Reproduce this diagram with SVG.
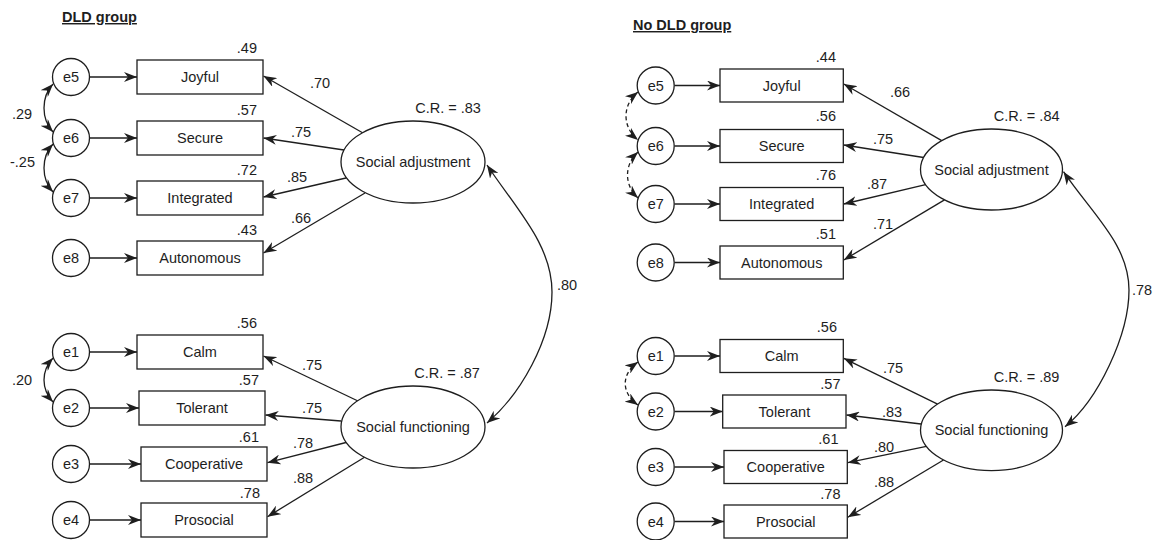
<svg xmlns="http://www.w3.org/2000/svg" width="1153" height="540" viewBox="0 0 1153 540">
  <style>
    text { font-family: "Liberation Sans", Arial, sans-serif; font-size: 14.5px; fill: #1e1e1e; }
    .title { font-weight: bold; text-decoration: underline; }
    .c { text-anchor: middle; }
    .r { text-anchor: end; }
    .shape { fill: #fff; stroke: #1e1e1e; stroke-width: 1.3; }
    .edge { fill: none; stroke: #1e1e1e; stroke-width: 1.3; marker-end: url(#head); }
    .cov { fill: none; stroke: #1e1e1e; stroke-width: 1.3; marker-start: url(#head); marker-end: url(#head); }
    .dash { stroke-dasharray: 4 3; }
  </style>
  <defs>
    <marker id="head" viewBox="0 0 13 10" refX="13" refY="5" markerWidth="13" markerHeight="10" markerUnits="userSpaceOnUse" orient="auto-start-reverse">
      <path d="M0,0 L13,5 L0,10 L4,5 z" fill="#1e1e1e"/>
    </marker>
  </defs>
  <rect width="1153" height="540" fill="#fff"/>

  <!-- ===== DLD group ===== -->
  <text class="title" x="62" y="22">DLD group</text>

  <g id="L-connectors">
    <!-- error terms to indicators -->
    <path class="edge" d="M90,77 L137,77"/>
    <path class="edge" d="M90,138 L137,138"/>
    <path class="edge" d="M90,198 L137,198"/>
    <path class="edge" d="M90,258 L137,258"/>
    <path class="edge" d="M90,352 L137,352"/>
    <path class="edge" d="M90,408 L139,408"/>
    <path class="edge" d="M90,464 L141,464"/>
    <path class="edge" d="M90,520 L141,520"/>
    <!-- loadings -->
    <path class="edge" d="M363,133 L263.5,76"/>
    <path class="edge" d="M344,150 L263.5,138"/>
    <path class="edge" d="M346,178 L263.5,197"/>
    <path class="edge" d="M365,193 L263.5,253"/>
    <path class="edge" d="M358,401 L263.5,356"/>
    <path class="edge" d="M341,421 L265.5,415"/>
    <path class="edge" d="M346,442.5 L267.5,462.7"/>
    <path class="edge" d="M364.5,457.3 L267.5,516.7"/>
    <!-- covariances -->
    <path class="cov" d="M53,84 C41,97 41,119 53,132"/>
    <path class="cov" d="M53,144 C41,157 41,179 53,192"/>
    <path class="cov" d="M53,358 C41,371 41,389 53,402"/>
    <path class="cov" d="M487,165 C517,210 552,245 552,292 C552,340 520,395 487,423"/>
    <text x="12" y="119">.29</text>
    <text x="10" y="167">-.25</text>
    <text x="12" y="385">.20</text>
    <text x="557" y="290">.80</text>
    <text x="310" y="88">.70</text>
    <text x="291" y="137">.75</text>
    <text x="287" y="182">.85</text>
    <text x="291" y="223">.66</text>
    <text x="302" y="370">.75</text>
    <text x="302" y="413">.75</text>
    <text x="293" y="448">.78</text>
    <text x="293" y="483">.88</text>
  </g>

  <g id="L-e5"><circle class="shape" cx="71" cy="77" r="18.5"/><text class="c" x="71" y="82">e5</text></g>
  <g id="L-e6"><circle class="shape" cx="71" cy="138" r="18.5"/><text class="c" x="71" y="143">e6</text></g>
  <g id="L-e7"><circle class="shape" cx="71" cy="198" r="18.5"/><text class="c" x="71" y="203">e7</text></g>
  <g id="L-e8"><circle class="shape" cx="71" cy="258" r="18.5"/><text class="c" x="71" y="263">e8</text></g>
  <g id="L-e1"><circle class="shape" cx="71" cy="352" r="18.5"/><text class="c" x="71" y="357">e1</text></g>
  <g id="L-e2"><circle class="shape" cx="71" cy="408" r="18.5"/><text class="c" x="71" y="413">e2</text></g>
  <g id="L-e3"><circle class="shape" cx="71" cy="464" r="18.5"/><text class="c" x="71" y="469">e3</text></g>
  <g id="L-e4"><circle class="shape" cx="71" cy="520" r="18.5"/><text class="c" x="71" y="525">e4</text></g>

  <g id="L-joyful"><rect class="shape" x="137" y="60" width="126" height="34"/><text class="c" x="200" y="82">Joyful</text><text class="r" x="257" y="53">.49</text></g>
  <g id="L-secure"><rect class="shape" x="137" y="121" width="126" height="34"/><text class="c" x="200" y="143">Secure</text><text class="r" x="257" y="115">.57</text></g>
  <g id="L-integrated"><rect class="shape" x="137" y="181" width="126" height="34"/><text class="c" x="200" y="203">Integrated</text><text class="r" x="257" y="175">.72</text></g>
  <g id="L-autonomous"><rect class="shape" x="137" y="241" width="126" height="34"/><text class="c" x="200" y="263">Autonomous</text><text class="r" x="257" y="235">.43</text></g>
  <g id="L-calm"><rect class="shape" x="137" y="335" width="126" height="34"/><text class="c" x="200" y="357">Calm</text><text class="r" x="257" y="328">.56</text></g>
  <g id="L-tolerant"><rect class="shape" x="139" y="391" width="126" height="34"/><text class="c" x="202" y="413">Tolerant</text><text class="r" x="259" y="385">.57</text></g>
  <g id="L-cooperative"><rect class="shape" x="141" y="447" width="126" height="34"/><text class="c" x="204" y="469">Cooperative</text><text class="r" x="259" y="442">.61</text></g>
  <g id="L-prosocial"><rect class="shape" x="141" y="503" width="126" height="34"/><text class="c" x="204" y="525">Prosocial</text><text class="r" x="260" y="497.5">.78</text></g>

  <g id="L-social-adjustment"><ellipse class="shape" cx="413" cy="162" rx="72" ry="41"/><text class="c" x="413" y="167">Social adjustment</text><text class="c" x="448" y="113">C.R. = .83</text></g>
  <g id="L-social-functioning"><ellipse class="shape" cx="413" cy="427" rx="72" ry="41"/><text class="c" x="413" y="432">Social functioning</text><text class="c" x="447" y="378">C.R. = .87</text></g>

  <!-- ===== No DLD group ===== -->
  <text class="title" x="633" y="30">No DLD group</text>

  <g id="R-connectors">
    <path class="edge" d="M674.5,85.5 L720,85.5"/>
    <path class="edge" d="M674.5,146 L720,146"/>
    <path class="edge" d="M674.5,204 L720,204"/>
    <path class="edge" d="M674.5,262.5 L720,262.5"/>
    <path class="edge" d="M674.5,356 L720,356"/>
    <path class="edge" d="M674.5,411.5 L722.7,411.5"/>
    <path class="edge" d="M674.5,467 L724,467"/>
    <path class="edge" d="M674.5,521.5 L724,521.5"/>
    <path class="edge" d="M941.7,140.6 L843.8,84"/>
    <path class="edge" d="M923.6,157.5 L843.8,145"/>
    <path class="edge" d="M925.6,184.6 L843.8,204"/>
    <path class="edge" d="M944.5,199.9 L843.8,260"/>
    <path class="edge" d="M937.6,404.1 L843.8,358.3"/>
    <path class="edge" d="M921,424 L846.5,415"/>
    <path class="edge" d="M926.4,446.4 L847.8,462.7"/>
    <path class="edge" d="M943.5,460 L847.8,517.3"/>
    <path class="cov dash" d="M638,92 C622,105 622,127 638,140"/>
    <path class="cov dash" d="M638,152 C624,165 624,185 638,198"/>
    <path class="cov dash" d="M638,362 C621,374 621,393 638,405"/>
    <path class="cov" d="M1063.5,171.7 C1093,215 1129,245 1129,290 C1129,335 1098,400 1065,426.7"/>
    <text x="1132" y="295">.78</text>
    <text x="890" y="97">.66</text>
    <text x="873" y="144">.75</text>
    <text x="867" y="189">.87</text>
    <text x="873" y="229">.71</text>
    <text x="883" y="373">.75</text>
    <text x="882" y="417">.83</text>
    <text x="874" y="452">.80</text>
    <text x="874" y="487">.88</text>
  </g>

  <g id="R-e5"><circle class="shape" cx="655.7" cy="85.5" r="18.5"/><text class="c" x="655.7" y="90.5">e5</text></g>
  <g id="R-e6"><circle class="shape" cx="655.7" cy="146" r="18.5"/><text class="c" x="655.7" y="151">e6</text></g>
  <g id="R-e7"><circle class="shape" cx="655.7" cy="204" r="18.5"/><text class="c" x="655.7" y="209">e7</text></g>
  <g id="R-e8"><circle class="shape" cx="655.7" cy="262.5" r="18.5"/><text class="c" x="655.7" y="267.5">e8</text></g>
  <g id="R-e1"><circle class="shape" cx="655.7" cy="356" r="18.5"/><text class="c" x="655.7" y="361">e1</text></g>
  <g id="R-e2"><circle class="shape" cx="655.7" cy="411.5" r="18.5"/><text class="c" x="655.7" y="416.5">e2</text></g>
  <g id="R-e3"><circle class="shape" cx="655.7" cy="467" r="18.5"/><text class="c" x="655.7" y="472">e3</text></g>
  <g id="R-e4"><circle class="shape" cx="655.7" cy="521.5" r="18.5"/><text class="c" x="655.7" y="526.5">e4</text></g>

  <g id="R-joyful"><rect class="shape" x="720" y="69" width="123.3" height="33"/><text class="c" x="781.7" y="90.5">Joyful</text><text class="r" x="836" y="62">.44</text></g>
  <g id="R-secure"><rect class="shape" x="720" y="129.5" width="123.3" height="33"/><text class="c" x="781.7" y="151">Secure</text><text class="r" x="836" y="121">.56</text></g>
  <g id="R-integrated"><rect class="shape" x="720" y="187.5" width="123.3" height="33"/><text class="c" x="781.7" y="209">Integrated</text><text class="r" x="836" y="180">.76</text></g>
  <g id="R-autonomous"><rect class="shape" x="720" y="246" width="123.3" height="33"/><text class="c" x="781.7" y="267.5">Autonomous</text><text class="r" x="836" y="238.5">.51</text></g>
  <g id="R-calm"><rect class="shape" x="720" y="339.5" width="123.3" height="33"/><text class="c" x="781.7" y="361">Calm</text><text class="r" x="837" y="332">.56</text></g>
  <g id="R-tolerant"><rect class="shape" x="722.7" y="395" width="123.3" height="33"/><text class="c" x="784.4" y="416.5">Tolerant</text><text class="r" x="840.5" y="388.5">.57</text></g>
  <g id="R-cooperative"><rect class="shape" x="724" y="450.5" width="123.3" height="33"/><text class="c" x="785.7" y="472">Cooperative</text><text class="r" x="838.5" y="443.5">.61</text></g>
  <g id="R-prosocial"><rect class="shape" x="724" y="505" width="123.3" height="33"/><text class="c" x="785.7" y="526.5">Prosocial</text><text class="r" x="840.5" y="498.5">.78</text></g>

  <g id="R-social-adjustment"><ellipse class="shape" cx="991.5" cy="169.5" rx="71" ry="40.5"/><text class="c" x="991.5" y="174.5">Social adjustment</text><text class="c" x="1026.7" y="121">C.R. = .84</text></g>
  <g id="R-social-functioning"><ellipse class="shape" cx="991.5" cy="430.3" rx="71" ry="40.3"/><text class="c" x="991.5" y="435.3">Social functioning</text><text class="c" x="1026.5" y="382">C.R. = .89</text></g>
</svg>
